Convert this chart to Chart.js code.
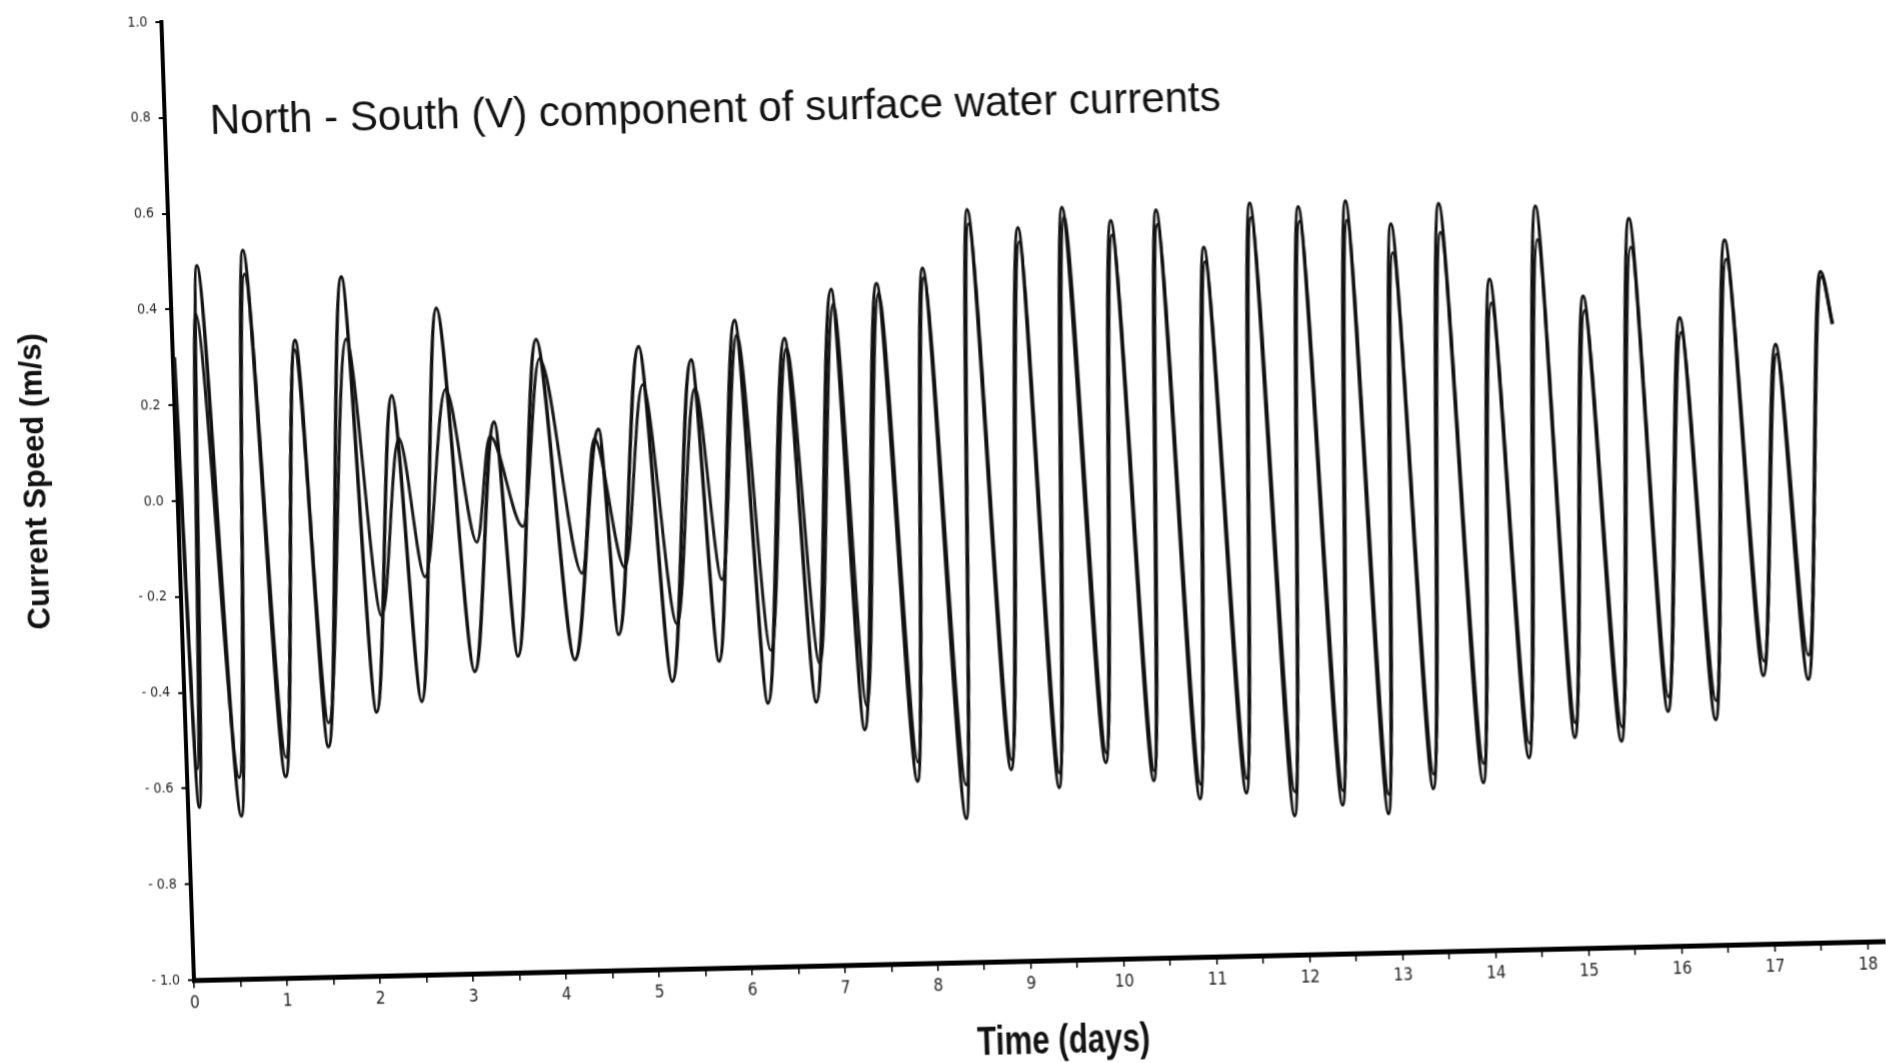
<!DOCTYPE html>
<html>
<head>
<meta charset="utf-8">
<script src="https://cdn.jsdelivr.net/npm/chart.js@4.4.1/dist/chart.umd.min.js"></script>
<style>
html,body{margin:0;padding:0;background:#fff;overflow:hidden;width:1886px;height:1063px}
#wrap{position:absolute;left:0;top:0;width:1886px;height:1120px;transform-origin:194px 980px;transform:matrix(1,-0.023,0.034,1,0,0)}
canvas{display:block}
</style>
</head>
<body>
<div id="wrap"><canvas id="c" width="1886" height="1120"></canvas></div>
<script>
// ---- data ----
const timeA = [0.02,0.12,0.29,0.57,0.79,1.06,1.32,1.53,1.84,2.06,2.34,2.55,2.85,3.13,3.43,3.60,3.91,4.21,4.55,4.69,5.01,5.25,5.57,5.76,6.05,6.27,6.58,6.79,7.10,7.30,7.59,7.85,8.09,8.36,8.59,8.86,9.13,9.37,9.61,9.88,10.13,10.39,10.62,10.88,11.12,11.38,11.63,11.89,12.15,12.41,12.66,12.90,13.14,13.39,13.66,13.93,14.18,14.43,14.70,14.93,15.18,15.43,15.70,15.94,16.21,16.45,16.72,16.98,17.23,17.46,17.74,17.85];
const speedA = [0.20,-0.64,0.49,-0.66,0.52,-0.58,0.33,-0.52,0.46,-0.45,0.21,-0.43,0.39,-0.37,0.15,-0.34,0.32,-0.35,0.13,-0.30,0.30,-0.40,0.27,-0.36,0.35,-0.45,0.31,-0.45,0.41,-0.51,0.42,-0.62,0.45,-0.70,0.57,-0.60,0.53,-0.64,0.57,-0.59,0.54,-0.63,0.56,-0.67,0.48,-0.66,0.57,-0.71,0.56,-0.69,0.57,-0.71,0.52,-0.66,0.56,-0.65,0.40,-0.60,0.55,-0.56,0.36,-0.57,0.52,-0.51,0.31,-0.53,0.47,-0.44,0.25,-0.45,0.40,0.29];
const timeB = [0.02,0.11,0.26,0.56,0.80,1.07,1.31,1.54,1.87,2.15,2.40,2.63,2.92,3.20,3.38,3.70,3.94,4.32,4.50,4.78,5.04,5.32,5.60,5.82,6.07,6.32,6.60,6.84,7.12,7.33,7.61,7.86,8.10,8.37,8.60,8.87,9.14,9.38,9.63,9.89,10.14,10.40,10.63,10.89,11.13,11.39,11.64,11.90,12.16,12.42,12.67,12.91,13.15,13.40,13.67,13.94,14.19,14.44,14.71,14.94,15.19,15.44,15.71,15.95,16.22,16.46,16.73,16.99,17.24,17.47,17.75,17.85];
const speedB = [0.30,-0.56,0.39,-0.58,0.47,-0.54,0.31,-0.47,0.33,-0.25,0.12,-0.17,0.22,-0.10,0.12,-0.07,0.28,-0.17,0.11,-0.16,0.22,-0.28,0.21,-0.19,0.32,-0.34,0.29,-0.37,0.38,-0.46,0.40,-0.58,0.43,-0.63,0.54,-0.58,0.50,-0.61,0.55,-0.57,0.51,-0.61,0.53,-0.64,0.45,-0.63,0.54,-0.66,0.53,-0.66,0.53,-0.67,0.46,-0.63,0.50,-0.61,0.35,-0.57,0.48,-0.53,0.33,-0.54,0.46,-0.48,0.28,-0.49,0.43,-0.41,0.23,-0.40,0.39,0.29];
const xTickLabels = ['0','1','2','3','4','5','6','7','8','9','10','11','12','13','14','15','16','17','18'];
const yTickLabels = ['- 1.0','- 0.8','- 0.6','- 0.4','- 0.2','0.0','0.2','0.4','0.6','0.8','1.0'];
const chartTitle = 'North - South (V) component of surface water currents';
const xTitle = 'Time (days)';
const yTitle = 'Current Speed (m/s)';

const NARROW = '"DejaVu Sans Condensed", "Liberation Sans", sans-serif';
const SANS = '"Liberation Sans", Arial, sans-serif';

const toPts = (t, v) => t.map((x, i) => ({x: x, y: v[i]}));

const annot = {
  id: 'annot',
  afterDraw(chart) {
    const ctx = chart.ctx;
    const ca = chart.chartArea;
    ctx.save();
    ctx.fillStyle = '#111';
    ctx.font = '42px ' + SANS;
    ctx.textAlign = 'left';
    ctx.textBaseline = 'alphabetic';
    ctx.fillText(chartTitle, ca.left + 45, ca.top + 113);

    ctx.font = 'bold 31px ' + SANS;
    ctx.textAlign = 'center';
    ctx.textBaseline = 'middle';
    ctx.save();
    ctx.translate(ca.left - 141, ca.bottom - 502);
    ctx.rotate(-Math.PI / 2);
    ctx.fillText(yTitle, 0, 0);
    ctx.restore();

    ctx.save();
    ctx.font = 'bold 40px ' + SANS;
    ctx.translate(ca.left + 867, ca.bottom + 82);
    ctx.scale(0.78, 1);
    ctx.fillText(xTitle, 0, 0);
    ctx.restore();
    ctx.restore();
  }
};

new Chart(document.getElementById('c'), {
  type: 'line',
  data: {
    datasets: [
      {label: 'A', data: toPts(timeA, speedA), borderColor: '#111', borderWidth: 3.5, pointRadius: 0, cubicInterpolationMode: 'monotone', fill: false},
      {label: 'B', data: toPts(timeB, speedB), borderColor: '#1a1a1a', borderWidth: 3, pointRadius: 0, cubicInterpolationMode: 'monotone', fill: false}
    ]
  },
  options: {
    responsive: false,
    animation: false,
    devicePixelRatio: 1,
    layout: {padding: {left: 0, right: 0, top: 22, bottom: 0}},
    plugins: {legend: {display: false}, tooltip: {enabled: false}, title: {display: false}},
    scales: {
      x: {
        type: 'linear', min: 0, max: 18.2,
        border: {display: true, color: '#000', width: 5},
        grid: {drawOnChartArea: false, drawTicks: true, tickLength: 8, color: '#000', lineWidth: 1.5},
        ticks: {
          stepSize: 0.5, includeBounds: false, autoSkip: false, maxRotation: 0, padding: 5,
          color: '#222', font: {family: NARROW, size: 17},
          callback: (v) => Math.abs(v - Math.round(v)) < 1e-6 ? xTickLabels[Math.round(v)] : ''
        },
        afterFit: (s) => { s.height = 140; s.paddingLeft = 0; s.paddingRight = 0; }
      },
      y: {
        type: 'linear', min: -1, max: 1,
        border: {display: true, color: '#000', width: 4},
        grid: {drawOnChartArea: false, drawTicks: true, tickLength: 6, color: '#000', lineWidth: 2},
        ticks: {
          stepSize: 0.2, autoSkip: false, padding: 8,
          color: '#222', font: {family: NARROW, size: 14},
          callback: (v, i) => yTickLabels[i]
        },
        afterFit: (s) => { s.width = 194; s.paddingTop = 0; s.paddingBottom = 0; }
      }
    }
  },
  plugins: [annot]
});
</script>
</body>
</html>
